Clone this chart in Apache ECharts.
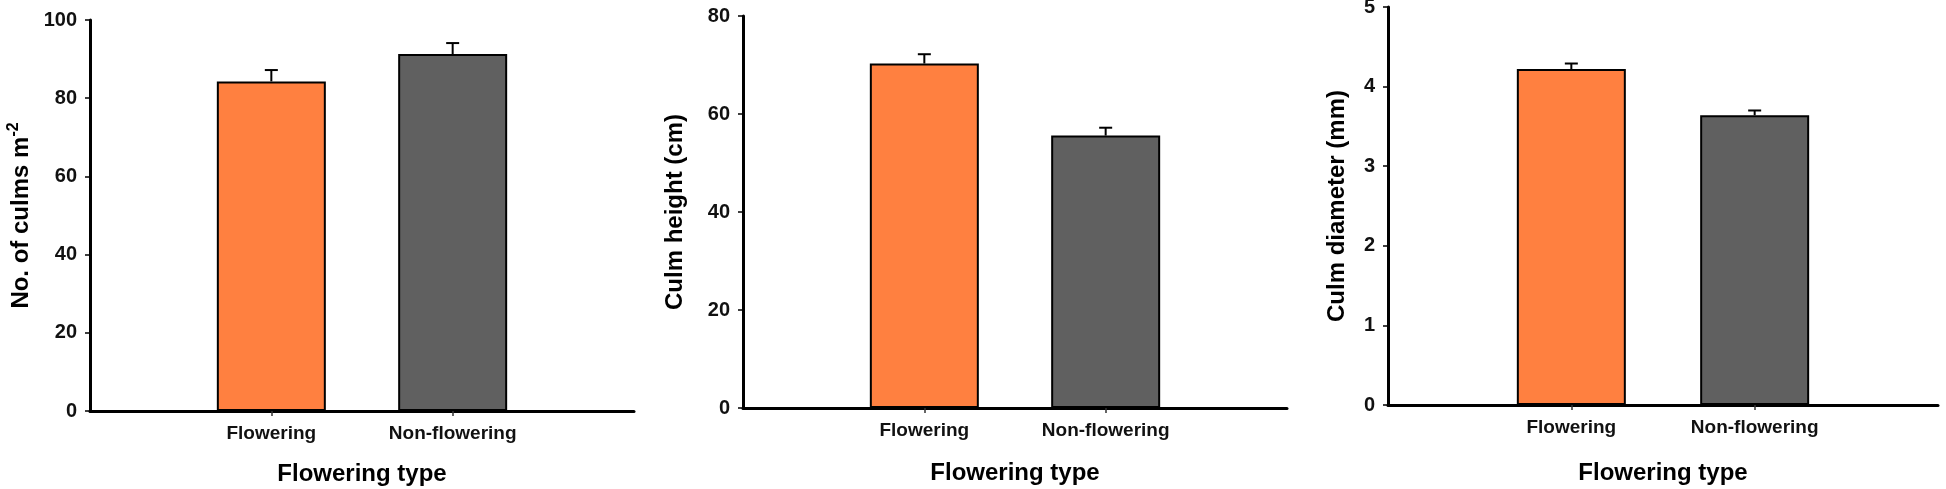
<!DOCTYPE html>
<html>
<head>
<meta charset="utf-8">
<script src="https://cdn.jsdelivr.net/npm/echarts@6/dist/echarts.min.js"></script>
<style>
html,body{margin:0;padding:0;background:#fff;}
#c{width:1946px;height:489px;}
</style>
</head>
<body>
<div id="c"></div>
<script>
// ---- data ----
const categories = ['', 'Flowering', 'Non-flowering', ''];
const culmsMean = [84.3, 91.3];
const culmsErr = [2.9, 2.8];
const heightMean = [70.3, 55.6];
const heightErr = [1.9, 1.6];
const diamMean = [4.22, 3.64];
const diamErr = [0.07, 0.06];
const yTicks1 = {min: 0, max: 100, interval: 20};
const yTicks2 = {min: 0, max: 80, interval: 20};
const yTicks3 = {min: 0, max: 5, interval: 1};
const xTitle = 'Flowering type';

// ---- style ----
const barColors = ['#FF8040', '#606060'];
const FONT = '"Liberation Sans", Arial, sans-serif';

const chart = echarts.init(document.getElementById('c'), null, {renderer: 'canvas'});

const grids = [
  {left: 90, top: 20, width: 544, height: 391, outerBoundsMode: 'none', containLabel: false},
  {left: 743, top: 16, width: 544, height: 392, outerBoundsMode: 'none', containLabel: false},
  {left: 1388, top: 7, width: 550, height: 398, outerBoundsMode: 'none', containLabel: false}
];

function xAxis(gi, gap) {
  return {
    type: 'category', gridIndex: gi, data: categories, boundaryGap: false,
    axisLine: {lineStyle: {color: '#000', width: 3}},
    axisTick: {show: true, length: 5, inside: false, lineStyle: {color: '#333', width: 1.5},
      interval: function (idx) { return idx === 1 || idx === 2; }},
    axisLabel: {color: '#111', fontFamily: FONT, fontWeight: 'bold', fontSize: 19, margin: 13,
      interval: 0},
    splitLine: {show: false},
    name: xTitle, nameLocation: 'middle', nameGap: gap,
    nameTextStyle: {color: '#000', fontFamily: FONT, fontWeight: 'bold', fontSize: 24}
  };
}
function yAxis(gi, ticks, name, gap, rich) {
  const o = {
    type: 'value', gridIndex: gi, min: ticks.min, max: ticks.max, interval: ticks.interval,
    axisLine: {show: true, lineStyle: {color: '#000', width: 3}},
    axisTick: {show: true, length: 5, lineStyle: {color: '#000', width: 1.5}},
    axisLabel: {color: '#111', fontFamily: FONT, fontWeight: 'bold', fontSize: 20, margin: 13},
    splitLine: {show: false},
    name: name, nameLocation: 'middle', nameGap: gap, nameRotate: 90,
    nameTextStyle: {color: '#000', fontFamily: FONT, fontWeight: 'bold', fontSize: 24}
  };
  if (rich) o.nameTextStyle.rich = rich;
  return o;
}

function barSeries(gi, means) {
  return {
    type: 'bar', xAxisIndex: gi, yAxisIndex: gi, barWidth: 109,
    data: means.map((v, i) => ({value: [i + 1, v], itemStyle: {color: barColors[i]}})),
    itemStyle: {borderColor: '#000', borderWidth: 2},
    z: 2
  };
}
function errSeries(gi, means, errs) {
  return {
    type: 'custom', xAxisIndex: gi, yAxisIndex: gi, z: 3,
    data: means.map((v, i) => [i + 1, v, errs[i]]),
    encode: {x: 0, y: 1},
    renderItem: function (params, api) {
      const x = api.value(0), y = api.value(1), e = api.value(2);
      const base = api.coord([x, y]);
      const top = api.coord([x, y + e]);
      const st = {stroke: '#000', lineWidth: 2};
      return {type: 'group', children: [
        {type: 'line', shape: {x1: base[0], y1: base[1], x2: top[0], y2: top[1]}, style: st},
        {type: 'line', shape: {x1: top[0] - 6.5, y1: top[1], x2: top[0] + 6.5, y2: top[1]}, style: st}
      ]};
    }
  };
}

const option = {
  animation: false,
  backgroundColor: '#fff',
  grid: grids,
  xAxis: [xAxis(0, 51), xAxis(1, 53), xAxis(2, 56)],
  yAxis: [
    yAxis(0, yTicks1, '{t|No. of culms m}{s|-2}', 54, {
      t: {fontFamily: FONT, fontWeight: 'bold', fontSize: 24, color: '#000', lineHeight: 30},
      s: {fontFamily: FONT, fontWeight: 'bold', fontSize: 16, color: '#000', verticalAlign: 'top', lineHeight: 30}
    }),
    yAxis(1, yTicks2, 'Culm height (cm)', 56),
    yAxis(2, yTicks3, 'Culm diameter (mm)', 39)
  ],
  series: [
    barSeries(0, culmsMean), errSeries(0, culmsMean, culmsErr),
    barSeries(1, heightMean), errSeries(1, heightMean, heightErr),
    barSeries(2, diamMean), errSeries(2, diamMean, diamErr)
  ]
};
chart.setOption(option);
</script>
</body>
</html>
